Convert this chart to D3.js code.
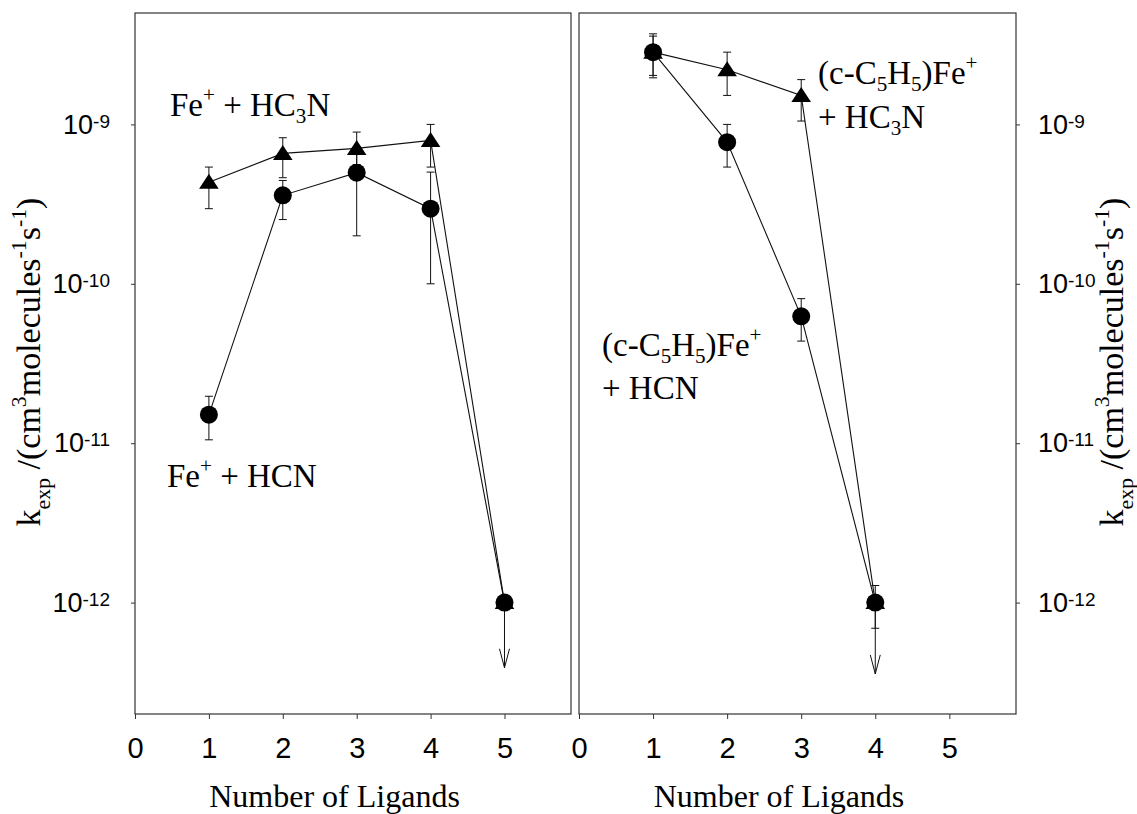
<!DOCTYPE html>
<html><head><meta charset="utf-8">
<script src="https://cdn.jsdelivr.net/npm/d3@7"></script>
<style>html,body{margin:0;padding:0;background:#fff;} svg{display:block;}</style>
</head><body><svg id="c" width="1137" height="814"></svg>
<script>
// ---------- data ----------
const xTicks = [0, 1, 2, 3, 4, 5];
const yTicks = [1e-12, 1e-11, 1e-10, 1e-9];
const yTickExp = ["-12", "-11", "-10", "-9"];

// left panel: Fe+ + ligand
const feLigands = [1, 2, 3, 4, 5];
const feHC3N    = [4.33e-10, 6.58e-10, 7.07e-10, 7.94e-10, 1e-12];
const feHC3N_hi = [5.4e-10, 8.25e-10, 8.95e-10, 1.0e-9, null];
const feHC3N_lo = [2.96e-10, 4.63e-10, 5.6e-10, 5.4e-10, null];
const feHCN     = [1.51e-11, 3.59e-10, 4.98e-10, 2.96e-10, 1e-12];
const feHCN_hi  = [1.97e-11, 4.45e-10, 7.0e-10, 5.02e-10, null];
const feHCN_lo  = [1.05e-11, 2.53e-10, 2.0e-10, 1.0e-10, null];
const feArrow   = {n: 5, from: 1e-12, to: 3.9e-13};

// right panel: (c-C5H5)Fe+ + ligand
const cpLigands = [1, 2, 3, 4];
const cpHC3N    = [2.84e-9, 2.2e-9, 1.52e-9, 1e-12];
const cpHC3N_hi = [3.58e-9, 2.84e-9, 1.91e-9, null];
const cpHC3N_lo = [2.03e-9, 1.52e-9, 1.05e-9, null];
const cpHCN     = [2.84e-9, 7.74e-10, 6.25e-11, 1e-12];
const cpHCN_hi  = [3.7e-9, 1.0e-9, 8.07e-11, 1.28e-12];
const cpHCN_lo  = [1.96e-9, 5.4e-10, 4.37e-11, 6.9e-13];
const cpArrow   = {n: 4, from: 1e-12, to: 3.57e-13};

// ---------- layout ----------
const svg = d3.select("#c");
const plotTop = 13, plotBottom = 714;
const SERIF = "'Liberation Serif','Times New Roman',Times,serif";
const SANS = "'Liberation Sans',Arial,Helvetica,sans-serif";
const INK = "#111";
const y = d3.scaleLog().domain([2e-13, 5e-9]).range([plotBottom, plotTop]);

function richText(sel, segs, fs, subShift) {
  let prev = 0;
  segs.forEach(s => {
    const shift = s.sub ? subShift * fs : s.sup ? -0.42 * fs : 0;
    const ts = sel.append("tspan").text(s.t).attr("dy", shift - prev);
    if (s.sub || s.sup) ts.attr("font-size", 0.64 * fs);
    prev = shift;
  });
}

function series(ns, vals, hi, lo) {
  return ns.map((n, i) => ({n, v: vals[i], hi: hi[i], lo: lo[i]}));
}

function drawPanel(o) {
  const x = d3.scaleLinear().domain([0, 5.9]).range([o.x0, o.x1]);
  const g = svg.append("g");

  g.append("rect").attr("x", o.x0).attr("y", plotTop)
    .attr("width", o.x1 - o.x0).attr("height", plotBottom - plotTop)
    .attr("fill", "none").attr("stroke", "#333").attr("stroke-width", 1.2);

  // x axis
  g.append("g").attr("transform", `translate(0,${plotBottom})`)
    .call(d3.axisBottom(x).tickValues(xTicks).tickSize(5).tickPadding(18).tickFormat(d3.format("d")))
    .call(s => {
      s.select(".domain").remove();
      s.selectAll("line").attr("stroke", "#333");
      s.selectAll("text").attr("font-family", SANS).attr("font-size", 29).attr("fill", "#000");
    });

  // y axis
  const left = o.side === "left";
  const ax = (left ? d3.axisLeft(y) : d3.axisRight(y)).tickValues(yTicks).tickSize(4)
    .tickPadding(left ? 21 : 18).tickFormat(() => "");
  g.append("g").attr("transform", `translate(${left ? o.x0 : o.x1},0)`)
    .call(ax)
    .call(s => {
      s.select(".domain").remove();
      s.selectAll("line").attr("stroke", "#333");
      s.selectAll(".tick text").each(function (d) {
        const t = d3.select(this).attr("font-family", SANS).attr("font-size", 27).attr("fill", "#000");
        t.text(null);
        t.append("tspan").text("10");
        t.append("tspan").attr("font-size", 19).attr("dy", -6).text(yTickExp[yTicks.indexOf(d)]);
      });
    });

  const line = d3.line().x(d => x(d.n)).y(d => y(d.v));
  const gd = g.append("g");
  o.series.forEach(sr => {
    gd.append("path").attr("d", line(sr.data)).attr("fill", "none").attr("stroke", INK).attr("stroke-width", 1.1);
  });
  // error bars
  o.series.forEach(sr => {
    sr.data.filter(d => d.hi != null).forEach(d => {
      const cx = x(d.n);
      gd.append("line").attr("x1", cx).attr("x2", cx).attr("y1", y(d.hi)).attr("y2", y(d.lo)).attr("stroke", INK).attr("stroke-width", 1);
      [d.hi, d.lo].forEach(v => {
        gd.append("line").attr("x1", cx - 4).attr("x2", cx + 4).attr("y1", y(v)).attr("y2", y(v)).attr("stroke", INK).attr("stroke-width", 1);
      });
    });
  });
  // upper-limit arrow
  const ax0 = x(o.arrow.n);
  gd.append("line").attr("x1", ax0).attr("x2", ax0).attr("y1", y(o.arrow.from)).attr("y2", y(o.arrow.to)).attr("stroke", INK).attr("stroke-width", 1);
  gd.append("path").attr("transform", `translate(${ax0},${y(o.arrow.to)})`)
    .attr("d", "M-5,-19L0,0L5,-19").attr("fill", "none").attr("stroke", INK).attr("stroke-width", 1);
  // markers: triangles then circles
  o.series.filter(s => s.shape === "tri").forEach(sr => {
    gd.selectAll(null).data(sr.data).join("path")
      .attr("transform", d => `translate(${x(d.n)},${y(d.v)})`)
      .attr("d", "M0,-8.5L9.8,6.5L-9.8,6.5Z").attr("fill", "#000");
  });
  o.series.filter(s => s.shape === "circle").forEach(sr => {
    gd.selectAll(null).data(sr.data).join("circle")
      .attr("cx", d => x(d.n)).attr("cy", d => y(d.v)).attr("r", 9).attr("fill", "#000");
  });

  // x title
  g.append("text").attr("x", x(2.7)).attr("y", 807).attr("text-anchor", "middle")
    .attr("font-family", SERIF).attr("font-size", 32).attr("fill", "#000").text("Number of Ligands");

  // y title
  const yt = g.append("text").attr("transform", `translate(${o.titleX},362) rotate(-90)`)
    .attr("text-anchor", "middle").attr("font-family", SERIF).attr("font-size", 34).attr("fill", "#000");
  richText(yt, [{t: "k"}, {t: "exp", sub: true}, {t: " /(cm"}, {t: "3", sup: true}, {t: "molecules"},
    {t: "-1", sup: true}, {t: "s"}, {t: "-1", sup: true}, {t: ")"}], 34, 0.28);

  // labels
  o.labels.forEach(l => {
    const t = g.append("text").attr("x", l.x).attr("y", l.y).attr("font-family", SERIF)
      .attr("font-size", 33).attr("fill", "#000");
    richText(t, l.segs, 33, 0.2);
  });
}

drawPanel({
  x0: 135, x1: 571, side: "left", titleX: 40,
  series: [
    {shape: "tri", data: series(feLigands, feHC3N, feHC3N_hi, feHC3N_lo)},
    {shape: "circle", data: series(feLigands, feHCN, feHCN_hi, feHCN_lo)}
  ],
  arrow: feArrow,
  labels: [
    {x: 170, y: 116, segs: [{t: "Fe"}, {t: "+", sup: true}, {t: " + HC"}, {t: "3", sub: true}, {t: "N"}]},
    {x: 167, y: 487, segs: [{t: "Fe"}, {t: "+", sup: true}, {t: " + HCN"}]}
  ]
});

drawPanel({
  x0: 579, x1: 1016, side: "right", titleX: 1123,
  series: [
    {shape: "tri", data: series(cpLigands, cpHC3N, cpHC3N_hi, cpHC3N_lo)},
    {shape: "circle", data: series(cpLigands, cpHCN, cpHCN_hi, cpHCN_lo)}
  ],
  arrow: cpArrow,
  labels: [
    {x: 818, y: 84, segs: [{t: "(c-C"}, {t: "5", sub: true}, {t: "H"}, {t: "5", sub: true}, {t: ")Fe"}, {t: "+", sup: true}]},
    {x: 818, y: 128, segs: [{t: "+ HC"}, {t: "3", sub: true}, {t: "N"}]},
    {x: 602, y: 356, segs: [{t: "(c-C"}, {t: "5", sub: true}, {t: "H"}, {t: "5", sub: true}, {t: ")Fe"}, {t: "+", sup: true}]},
    {x: 602, y: 399, segs: [{t: "+ HCN"}]}
  ]
});
</script>
</body></html>
